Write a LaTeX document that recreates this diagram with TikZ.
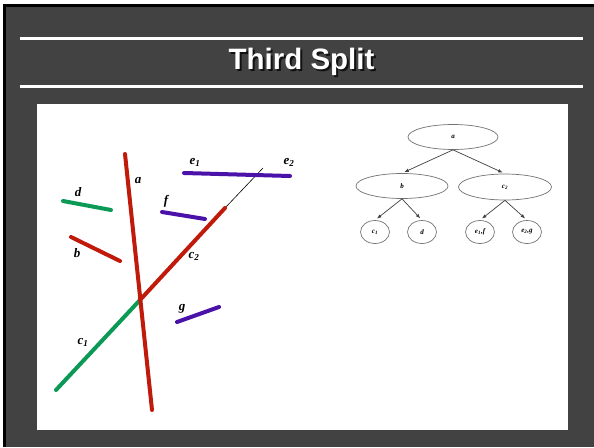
\documentclass[tikz,border=0pt]{standalone}
\usepackage{fontspec}
\setmainfont{Liberation Serif}
\newfontfamily\titlefont{Liberation Sans}
\usetikzlibrary{shapes.geometric,arrows.meta}
\definecolor{slidebg}{HTML}{424242}
\definecolor{segred}{HTML}{C01A0A}
\definecolor{seggreen}{HTML}{0A9A55}
\definecolor{segpurple}{HTML}{4A12A8}
\definecolor{shadowcol}{HTML}{111111}
\tikzset{
  seg/.style={line width=4pt, line cap=round},
  lbl/.style={font=\fontsize{13}{13}\selectfont\bfseries\itshape, inner sep=0pt},
  tnode/.style={ellipse, draw=black!55, line width=0.7pt, inner sep=0pt, font=\fontsize{7}{7}\selectfont\bfseries\itshape},
  smallnode/.style={tnode, minimum width=29pt, minimum height=23pt},
  tedge/.style={draw=black!75, line width=0.7pt, -{Latex[length=4.5pt,width=3.5pt]}, shorten >=2.5pt},
  titletext/.style={font=\titlefont\fontsize{29.5}{29.5}\selectfont\bfseries}
}
\begin{document}
\begin{tikzpicture}[x=1pt,y=-1pt]
\useasboundingbox (0,0) rectangle (594,447);
\fill[white] (0,0) rectangle (594,447);
\fill[slidebg] (4,5) rectangle (594,447);
\draw[black, line width=2.5pt] (4.5,447) -- (4.5,5.5) -- (594,5.5);
% title rules
\draw[white, line width=2.7pt] (20,38.5) -- (583,38.5);
\draw[white, line width=2.7pt] (20,86.5) -- (583,86.5);
\node[titletext] (title) at (301.5,63) {\makebox[0pt][l]{\hspace{2pt}\raisebox{-2pt}{\textcolor{shadowcol}{Third Split}}}\textcolor{white}{Third Split}};
% white panel
\fill[white] (37,104) rectangle (568,430);
% left diagram segments
\coordinate (aT) at (125,154);
\coordinate (aB) at (152,410);
\coordinate (jn) at (140,300);
\coordinate (c2T) at (225,208);
\coordinate (c1B) at (56,390);
\coordinate (ext) at (263,168);
\draw[black, line width=0.6pt] (c2T) -- (ext);
\draw[seg, segpurple] (184,173) coordinate (e1L) -- (290,176) coordinate (e2R);
\draw[seg, seggreen] (63,201) coordinate (dL) -- (111,210) coordinate (dR);
\draw[seg, segpurple] (162,212) coordinate (fL) -- (205,219) coordinate (fR);
\draw[seg, segred] (71,237) coordinate (bL) -- (120,261) coordinate (bR);
\draw[seg, seggreen] (jn) -- (c1B);
\draw[seg, segred] (jn) -- (c2T);
\draw[seg, segred] (aT) -- (aB);
\draw[seg, segpurple] (177,322) coordinate (gL) -- (219,307) coordinate (gR);
% labels
\node[lbl] (la) at (138,181) {a};
\node[lbl] (le1) at (195,162) {e\textsubscript{1}};
\node[lbl] (le2) at (289,162) {e\textsubscript{2}};
\node[lbl] (ld) at (78,192) {d};
\node[lbl] (lf) at (166,201) {f};
\node[lbl] (lb) at (77,253) {b};
\node[lbl] (lc2) at (194,256) {c\textsubscript{2}};
\node[lbl] (lc1) at (83,342) {c\textsubscript{1}};
\node[lbl] (lg) at (182,309) {g};
% tree
\node[tnode, minimum width=90pt, minimum height=25pt] (ta) at (453,137) {a};
\node[tnode, minimum width=92pt, minimum height=25pt] (tb) at (402,186) {b};
\node[tnode, minimum width=93pt, minimum height=26pt] (tc2) at (505,187) {c\textsubscript{2}};
\node[smallnode] (tc1) at (375,232) {c\textsubscript{1}};
\node[smallnode] (td) at (422,232) {d};
\node[smallnode] (te1f) at (480,232) {e\textsubscript{1},f};
\node[smallnode] (te2g) at (527,232) {e\textsubscript{2},g};
\draw[tedge] (ta.south) -- (tb.north);
\draw[tedge] (ta.south) -- (tc2.north);
\draw[tedge] (tb.south) -- (tc1.north);
\draw[tedge] (tb.south) -- (td.north);
\draw[tedge] (tc2.south) -- (te1f.north);
\draw[tedge] (tc2.south) -- (te2g.north);
\end{tikzpicture}
\end{document}
